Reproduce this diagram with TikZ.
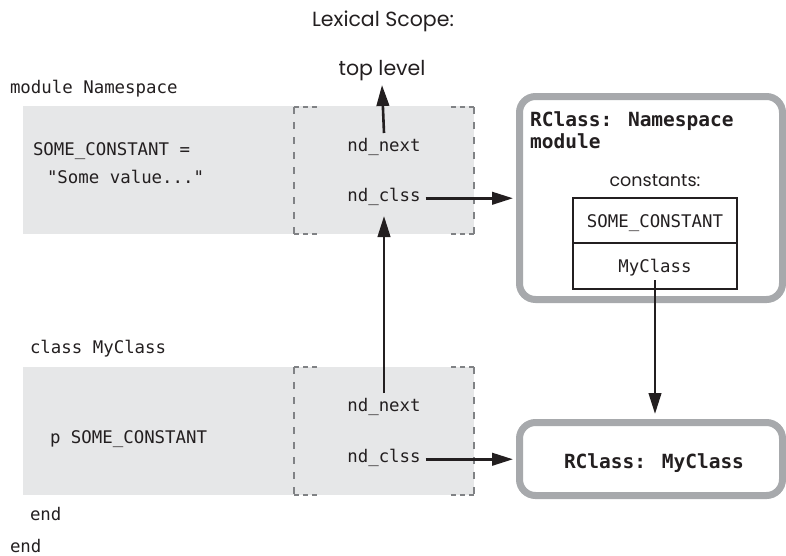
\documentclass[tikz,border=0pt]{standalone}
\usepackage{fontspec}
\setmainfont{Poppins}
\newfontfamily\codefont{DejaVu Sans Mono}
\usetikzlibrary{arrows.meta}
\definecolor{ink}{HTML}{231F20}
\definecolor{codebg}{HTML}{E6E7E8}
\definecolor{framec}{HTML}{A7A9AC}
\definecolor{dashc}{HTML}{808285}
\newcommand\DashFrame[4]{%
  \draw[vdash] (#1,#2) -- (#1,#4);
  \draw[vdash] (#3,#2) -- (#3,#4);
  \draw[hdash] (#1,#2) -- ++(25,0);
  \draw[hdash] (#3,#2) -- ++(-25,0);
  \draw[hdash] (#1,#4) -- ++(25,0);
  \draw[hdash] (#3,#4) -- ++(-25,0);
}
\begin{document}
\begin{tikzpicture}[x=1pt,y=-1pt,
  code/.style={font=\codefont\fontsize{17.4}{20}\selectfont, text=ink, inner sep=0pt, outer sep=0pt},
  fld/.style={code, text height=13pt, text depth=4pt},
  lbl/.style={font=\fontsize{20.5}{24}\selectfont, text=ink, inner sep=0pt},
  boldc/.style={font=\codefont\bfseries\fontsize{19.5}{24}\selectfont, text=ink, inner sep=0pt},
  codebox/.style={fill=codebg, draw=none, inner sep=0pt, outer sep=0pt, anchor=north west},
  rbox/.style={draw=framec, line width=7pt, rounded corners=16pt, fill=white, inner sep=0pt, outer sep=0pt, anchor=north west},
  cell/.style={code, draw=ink, line width=2.5pt, minimum width=164pt, anchor=north west, text height=13pt, text depth=0pt},
  arr/.style={draw=ink, line width=2.6pt, -{Triangle[length=21pt,width=12.5pt]}},
  vdash/.style={draw=dashc, line width=2.5pt, dash pattern=on 7pt off 8pt},
  hdash/.style={draw=dashc, line width=2.5pt, dash pattern=on 5pt off 4pt}]
\useasboundingbox (0,0) rectangle (786,555);

% headings
\node[lbl, anchor=base] (lex) at (383,26) {Lexical Scope:};
\node[lbl, anchor=base] (top) at (382,75) {top level};

% code blocks
\node[code, anchor=base west] (modl) at (10,93) {module Namespace};
\node[codebox, minimum width=451pt, minimum height=128pt] (box1) at (23,106) {};
\node[code, anchor=base west] (sc) at (33,155) {SOME\_CONSTANT =};
\node[code, anchor=base west] (sv) at (47,183) {"Some value..."};

\node[code, anchor=base west] (cls) at (30,353) {class MyClass};
\node[codebox, minimum width=451pt, minimum height=128pt] (box2) at (23,367) {};
\node[code, anchor=base west] (pc) at (50,443) {p SOME\_CONSTANT};
\node[code, anchor=base west] (end1) at (30,520) {end};
\node[code, anchor=base west] (end2) at (10,552) {end};

\DashFrame{294}{107}{474}{234}
\DashFrame{294}{367}{474}{495}

\node[fld, anchor=base] (n1) at (384,151) {nd\_next};
\node[fld, anchor=base] (c1) at (384,201) {nd\_clss};
\node[fld, anchor=base] (n2) at (384,411) {nd\_next};
\node[fld, anchor=base] (c2) at (384,462) {nd\_clss};

% RClass boxes
\node[rbox, minimum width=263pt, minimum height=203pt] (rc1) at (519.5,96.5) {};
\node[boldc, anchor=base west] (t1) at (530,126) {RClass: Namespace};
\node[boldc, anchor=base west] (t2) at (530,148) {module};
\node[lbl, font=\fontsize{17.5}{21}\selectfont, anchor=base] (cst) at (655,186) {constants:};
\node[cell, minimum height=45pt] (cell1) at (573,198) {SOME\_CONSTANT};
\node[cell, minimum height=46pt] (cell2) at (573,243) {MyClass};

\node[rbox, minimum width=263pt, minimum height=73pt] (rc2) at (519.5,422.5) {};
\node[boldc, anchor=base] (t3) at (654,468) {RClass: MyClass};

% connectors
\draw[arr] ([yshift=5pt]n1.north) -- ([yshift=-10pt]top.base);
\draw[arr] ([yshift=5pt]n2.north) -- ([yshift=-11pt]c1.south);
\draw[arr, shorten <=5pt, shorten >=6.5pt] (c1.mid east) -- (c1.mid east -| rc1.west);
\draw[arr, shorten <=5pt, shorten >=6.5pt] (c2.mid east) -- (c2.mid east -| rc2.west);
\draw[arr, shorten >=8.5pt] ([yshift=9pt]cell2.south) -- (rc2.north -| cell2.south);
\end{tikzpicture}
\end{document}
